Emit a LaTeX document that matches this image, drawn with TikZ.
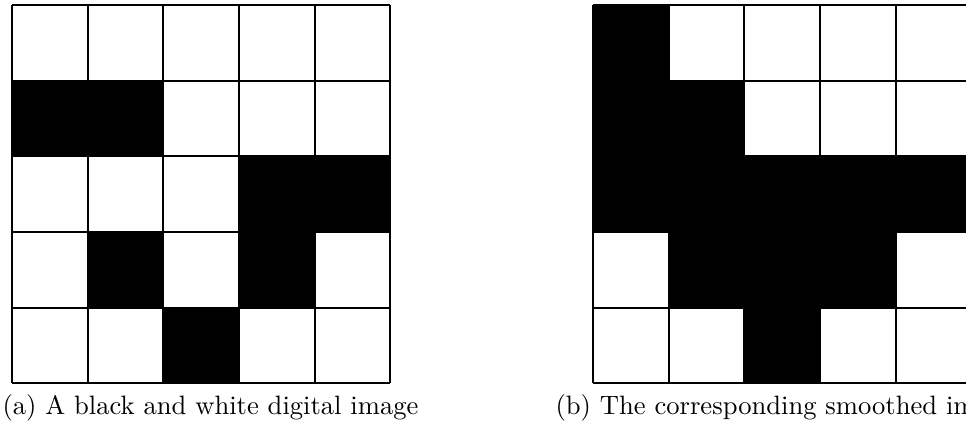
\documentclass[tikz,border=0pt]{standalone}
\begin{document}
\begin{tikzpicture}[x=0.376pt,y=-0.376pt,
  gridline/.style={line width=0.8pt},
  blk/.style={fill=black},
  captext/.style={anchor=base west,inner sep=0pt,font=\fontsize{10}{12}\selectfont}]
\useasboundingbox (0,0) rectangle (966,426);
\clip (0,0) rectangle (966,426);
% grid (a)
\begin{scope}[shift={(12,5)},x=1cm,y=-1cm]
  \foreach \c/\r in {0/1,1/1,3/2,4/2,1/3,3/3,2/4}
    \fill[blk] (\c,\r) rectangle ++(1,1);
  \foreach \i in {0,...,5} {
    \draw[gridline] (\i,0) -- (\i,5);
    \draw[gridline] (0,\i) -- (5,\i);
  }
\end{scope}
% grid (b)
\begin{scope}[shift={(593,5)},x=1cm,y=-1cm]
  \foreach \c/\r in {0/0,0/1,1/1,0/2,1/2,2/2,3/2,4/2,1/3,2/3,3/3,2/4}
    \fill[blk] (\c,\r) rectangle ++(1,1);
  \foreach \i in {0,...,5} {
    \draw[gridline] (\i,0) -- (\i,5);
    \draw[gridline] (0,\i) -- (5,\i);
  }
\end{scope}
\node[captext] (capa) at (2,415) {(a) A black and white digital image};
\node[captext] (capb) at (555,415) {(b) The corresponding smoothed image};
\end{tikzpicture}
\end{document}
